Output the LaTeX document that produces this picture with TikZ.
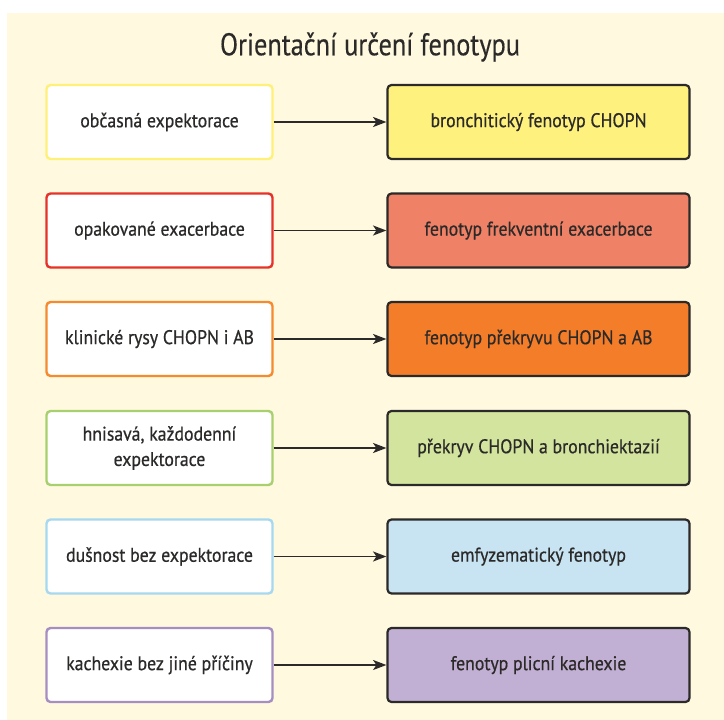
\documentclass[tikz,border=0pt]{standalone}
\usepackage{fontspec}
\setmainfont[FakeStretch=0.9,FakeBold=0.6]{PT Sans}
\newfontfamily\titlefont[FakeStretch=0.84,FakeBold=0.3]{PT Sans}
\usetikzlibrary{arrows.meta}
\definecolor{bgc}{HTML}{FFFADF}
\definecolor{ink}{HTML}{2B2A29}
\definecolor{yb}{HTML}{FFF07A}\definecolor{yf}{HTML}{FFF17E}
\definecolor{rb}{HTML}{E63228}\definecolor{rf}{HTML}{EF8166}
\definecolor{ob}{HTML}{F58A2E}\definecolor{of}{HTML}{F47D2A}
\definecolor{gb}{HTML}{A9D06E}\definecolor{gf}{HTML}{D3E49E}
\definecolor{bb}{HTML}{A6D8F0}\definecolor{bf}{HTML}{C8E4F3}
\definecolor{pb}{HTML}{A68EC2}\definecolor{pf}{HTML}{C2B0D4}
\tikzset{
  lbox/.style={draw=#1, line width=2.4pt*0.75, fill=white, rounded corners=3pt,
    minimum width=226*0.75pt, minimum height=74*0.75pt, inner sep=0pt,
    align=center, text=ink, font=\fontsize{14.8}{19}\selectfont},
  rbox/.style={draw=ink, line width=2.2pt*0.75, fill=#1, rounded corners=3pt,
    minimum width=302*0.75pt, minimum height=74*0.75pt, inner sep=0pt,
    align=center, text=ink, font=\fontsize{14.8}{19}\selectfont},
  conn/.style={draw=ink, line width=1.8pt*0.75, -{Stealth[length=10pt,width=7.5pt,inset=2.5pt]}}
}
\begin{document}
\begin{tikzpicture}[x=0.75pt,y=-0.75pt]
\useasboundingbox (0,0) rectangle (724,720);
\fill[white] (0,0) rectangle (724,720);
\fill[bgc] (7,13) rectangle (724,720);
\node[text=ink, font=\titlefont\fontsize{23.5}{28}\selectfont] (title) at (370,47) {Orientační určení fenotypu};
\node[lbox=yb] (l1) at (159.5,122) {občasná expektorace};
\node[rbox=yf] (r1) at (538.5,122) {bronchitický fenotyp CHOPN};
\node[lbox=rb] (l2) at (159.5,230.5) {opakované exacerbace};
\node[rbox=rf] (r2) at (538.5,230.5) {fenotyp frekventní exacerbace};
\node[lbox=ob] (l3) at (159.5,339) {klinické rysy CHOPN i AB};
\node[rbox=of] (r3) at (538.5,339) {fenotyp překryvu CHOPN a AB};
\node[lbox=gb] (l4) at (159.5,448) {hnisavá, každodenní\\expektorace};
\node[rbox=gf] (r4) at (538.5,448) {překryv CHOPN a bronchiektazií};
\node[lbox=bb] (l5) at (159.5,556.5) {dušnost bez expektorace};
\node[rbox=bf] (r5) at (538.5,556.5) {emfyzematický fenotyp};
\node[lbox=pb] (l6) at (159.5,665) {kachexie bez jiné příčiny};
\node[rbox=pf] (r6) at (538.5,665) {fenotyp plicní kachexie};
\foreach \i in {1,...,6} \draw[conn] (l\i) -- (r\i);
\end{tikzpicture}
\end{document}
